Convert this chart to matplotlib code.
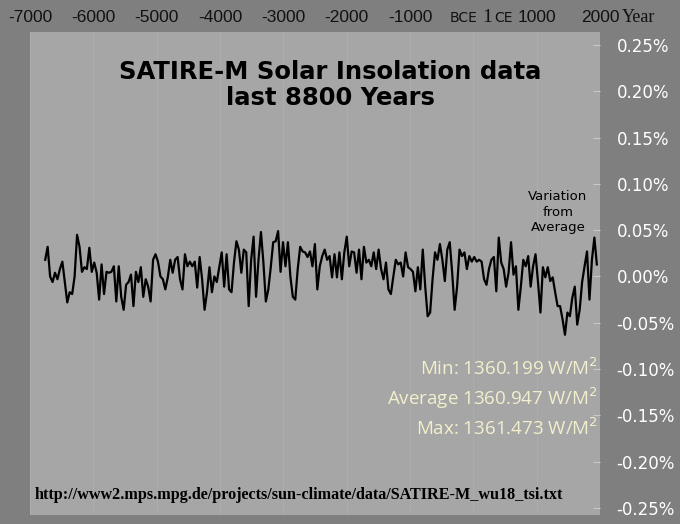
import numpy as np
import matplotlib
matplotlib.use("Agg")
import matplotlib.pyplot as plt

# variation from average, in units of 0.01 %
vals_a = [1.8,3.2,0,-0.6,0.4,-0.3,0.8,1.6,-0.6,-2.8,-1.7,-1.9,0,4.5,3.2,0.5,1.0,0.8,3.1,0.5,1.5,0.4,-2.5,1.3,-1.9,0.5,0.4,0.5,1.1,-2.7,1.1,-2.2,-3.6,-0.9,-0.6,0.2,-3.2,0.5,-0.6,1.0,-2.2,-0.3,-1.1,-2.7,1.8,2.4,1.6,0,-0.3,-1.4,-0.1,1.8,0.4,1.8,2.1,-0.3,-1.4,2.4,1.1,1.6,1.1,1.6,-1.2,2.1,-0.3,-3.6,-1.7,1.0,-1.7,0,-0.6,1.0,2.6,-1.1,2.4,-1.4,-1.7,1.5,3.8,2.9,0.4,2.9,2.6,-3.2,1.8,4.3,-2.2,1.8,4.8,1.5,-2.7,-1.4,1.0,3.7,3.8,4.9,0.5,3.7,1.1,3.7,0,-2.2,-2.5,0.8,3.2,2.7,2.6,2.1,2.7,1.1,3.5,-1.4,1.1,2.2,2.9,1.8,2.2,-0.1]
vals_b = [2.4,-0.1,2.6,-0.3,2.6,4.3,1.1,2.7,2.6,0.4,2.9,-0.3,3.2,1.5,1.8,1.1,2.6,0.8,2.9,0.8,-0.3,1.5,-1.4,-1.9,0,1.8,1.3,1.5,0,2.6,1.0,0.8,0.5,-1.6,1.0,-1.4,2.9,-1.1,-4.3,-3.9,-0.3,2.6,1.8,3.5,1.8,-0.5,2.9,3.7,0.4,-3.6,-1.1,2.9,2.2,2.6,0.8,2.2,1.6,2.1,1.6,1.8,1.6,-0.3,-0.9,0.8,1.8,2.1,-1.6,4.2,1.5,0.8,-1.1,0.4,3.7,0.2,1.1,-3.6,-1.1,1.8,1.1,2.2,-1.1,1.1,2.4,-0.6,-3.9,1.0,-0.1,1.0,-0.5,-0.1,-1.7,-3.2,-3.2,-4.6,-6.3,-3.9,-4.3,-2.3,-1.1,-5.2,-3.6,-0.6,1.1,2.7,-2.5,1.8,4.2,1.3]
start_year, end_year = -6760, 1950
x_ticks = [-7000,-6000,-5000,-4000,-3000,-2000,-1000,1000,2000]
y_ticks = [0.25,0.20,0.15,0.10,0.05,0.00,-0.05,-0.10,-0.15,-0.20,-0.25]
stats = ["Min: 1360.199 W/M$^2$", "Average 1360.947 W/M$^2$", "Max: 1361.473 W/M$^2$"]

values = np.array(vals_a + vals_b) / 100.0
years = np.linspace(start_year, end_year, len(values))

fig = plt.figure(figsize=(6.8, 5.24), dpi=100, facecolor="#7f7f7f")
ax = fig.add_axes([30/680, 1-515/524, 570/680, 483/524])
ax.set_facecolor("#a6a6a6")
ax.plot(years, values, color="black", lw=1.6)
ax.set_xlim(-7000, 2000)
ax.set_ylim(-0.2576, 0.264)
for s in ax.spines.values():
    s.set_visible(False)
for t in x_ticks + [0]:
    ax.axvline(t, color="#acacac", lw=0.8, zorder=0)

ax.xaxis.tick_top()
ax.set_xticks(x_ticks)
ax.set_xticklabels([str(t) for t in x_ticks], fontsize=12.5, color="#111111", family="Liberation Sans")
ax.tick_params(axis="x", length=0, pad=5)
ax.yaxis.tick_right()
ax.set_yticks(y_ticks)
ax.set_yticklabels([f"{t:.2f}%" for t in y_ticks], fontsize=12, color="white")
ax.tick_params(axis="y", length=5, color="#c8c8c8", direction="in", pad=12)

fig.text(478/680, 1-18/524, "BCE", fontsize=10, color="#111111", ha="right", va="center")
fig.text(482/680, 1-18/524, "1", fontsize=14, color="#111111", ha="left", va="center", family="Liberation Serif")
fig.text(494/680, 1-18/524, "CE", fontsize=10, color="#111111", ha="left", va="center")
fig.text(622/680, 1-18/524, "Year", fontsize=13, color="#111111", ha="left", va="center", family="Liberation Serif")

fig.text(330/680, 1-85/524, "SATIRE-M Solar Insolation data\nlast 8800 Years", fontsize=17.5, weight="bold",
         ha="center", va="center", color="black", linespacing=1.1)
fig.text(558/680, 1-212/524, "Variation\nfrom\nAverage", fontsize=9.5, ha="center", va="center", color="black", linespacing=1.2)
for i, s in enumerate(stats):
    fig.text(598/680, 1-(368+30*i)/524, s, fontsize=13.5, ha="right", va="center", color="#f3efcc", family="Open Sans")
fig.text(35/680, 1-495/524, "http://www2.mps.mpg.de/projects/sun-climate/data/SATIRE-M_wu18_tsi.txt",
         fontsize=11.6, weight="bold", family="Liberation Serif", ha="left", va="center", color="black")
fig.savefig("out.png", dpi=100, facecolor=fig.get_facecolor())
